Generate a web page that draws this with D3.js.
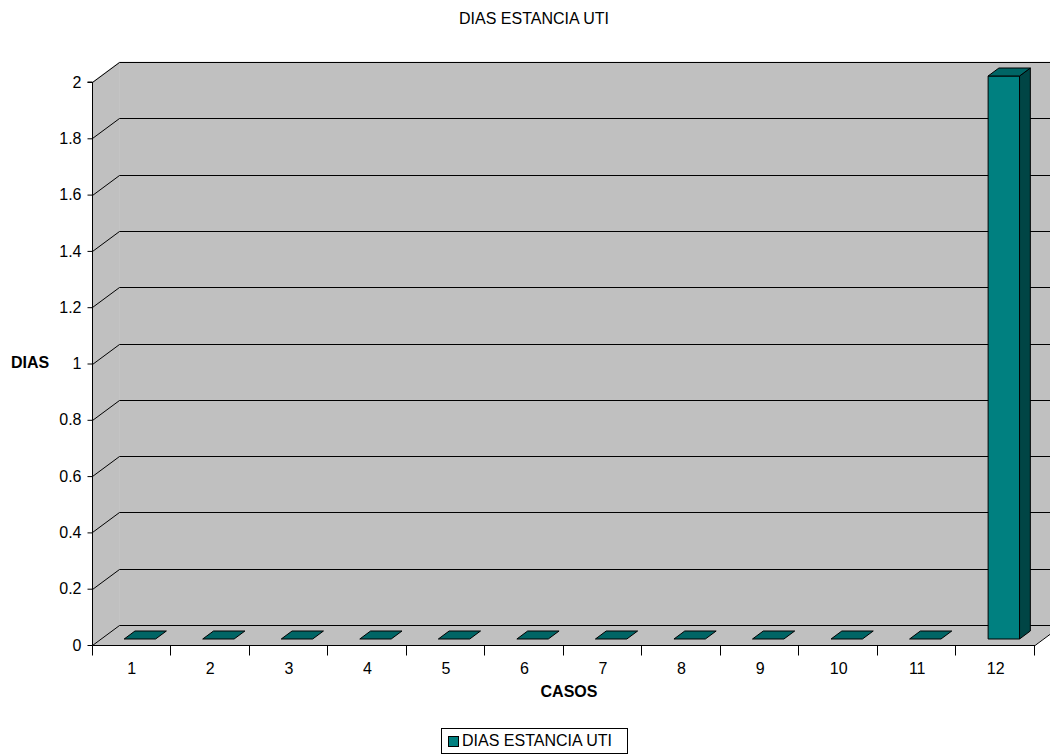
<!DOCTYPE html>
<html>
<head>
<meta charset="utf-8">
<script src="https://cdn.jsdelivr.net/npm/d3@7"></script>
<style>
  body { margin: 0; background: #fff; }
  svg { display: block; font-family: Arial, "Liberation Sans", sans-serif; }
</style>
</head>
<body>
<svg id="chart" width="1050" height="755"></svg>
<script>
// Data
const categories = ["1", "2", "3", "4", "5", "6", "7", "8", "9", "10", "11", "12"];
const values = [0, 0, 0, 0, 0, 0, 0, 0, 0, 0, 0, 2];
const yTicks = [0, 0.2, 0.4, 0.6, 0.8, 1, 1.2, 1.4, 1.6, 1.8, 2];
const seriesName = "DIAS ESTANCIA UTI";
const chartTitle = "DIAS ESTANCIA UTI";
const xTitle = "CASOS";
const yTitle = "DIAS";

const svg = d3.select("#chart");
const FONT = "Arial, 'Liberation Sans', sans-serif";
const FS = 16;

// 3D frame geometry
const depthX = 27, depthY = -20;
const x = d3.scaleBand().domain(categories).range([92.5, 1035]);
const y = d3.scaleLinear().domain([0, 2]).range([645, 82]);

const wallFill = "#c0c0c0";
const frontCol = "#008080", topCol = "#006565", sideCol = "#004545";

const line = pts => "M" + pts.map(p => p.join(",")).join("L") + "Z";

const x0 = x.range()[0], x1 = x.range()[1];
const yTop = y(2), yBot = y(0);

// Left wall
svg.append("path")
  .attr("d", line([[x0, yBot], [x0, yTop], [x0 + depthX, yTop + depthY], [x0 + depthX, yBot + depthY]]))
  .attr("fill", wallFill).attr("stroke", wallFill).attr("stroke-width", 0.5);
// Back wall
svg.append("path")
  .attr("d", line([[x0 + depthX, yTop + depthY], [x1 + depthX, yTop + depthY], [x1 + depthX, yBot + depthY], [x0 + depthX, yBot + depthY]]))
  .attr("fill", wallFill).attr("stroke", wallFill).attr("stroke-width", 0.5);
// Floor
svg.append("path")
  .attr("d", line([[x0, yBot], [x1, yBot], [x1 + depthX, yBot + depthY], [x0 + depthX, yBot + depthY]]))
  .attr("fill", wallFill).attr("stroke", "none");

// Gridlines on left and back walls
const grid = svg.append("g").attr("stroke", "#000").attr("stroke-width", 1).attr("fill", "none");
yTicks.forEach(t => {
  const yy = Math.round(y(t)) + 0.5;
  grid.append("path")
    .attr("d", `M${x0},${yy}L${x0 + depthX},${yy + depthY}L${x1 + depthX + 20},${yy + depthY}`);
});
// floor right edge
grid.append("path").attr("d", `M${x1},${yBot + 0.5}L${x1 + depthX},${yBot + depthY + 0.5}`);

// Bars
const bw = x.bandwidth() * 0.4;
const dStart = 0.3, dEnd = 0.7;
const bars = svg.append("g").attr("stroke", "#000").attr("stroke-width", 1).attr("stroke-linejoin", "round");
categories.forEach((c, i) => {
  const v = values[i];
  const cx = x(c) + x.bandwidth() / 2;
  const l = cx - bw / 2 + depthX * dStart, r = cx + bw / 2 + depthX * dStart;
  const b = y(0) + depthY * dStart, t = y(v) + depthY * dStart;
  const ddx = depthX * (dEnd - dStart), ddy = depthY * (dEnd - dStart);
  if (v > 0) {
    bars.append("path").attr("d", line([[l, b], [r, b], [r, t], [l, t]])).attr("fill", frontCol);
    bars.append("path").attr("d", line([[r, b], [r + ddx, b + ddy], [r + ddx, t + ddy], [r, t]])).attr("fill", sideCol);
  }
  bars.append("path").attr("d", line([[l, t], [r, t], [r + ddx, t + ddy], [l + ddx, t + ddy]])).attr("fill", topCol);
});

// Y axis
const yAxis = d3.axisLeft(y).tickValues(yTicks).tickSize(5).tickPadding(6).tickFormat(d3.format("~g"));
svg.append("g").attr("transform", `translate(${Math.round(x0) - 0.5},0)`).call(yAxis)
  .call(g => g.select(".domain").attr("d", `M-5,${yTop}H0V${yBot}`).attr("stroke", "#000"))
  .call(g => g.selectAll("text").attr("font-size", FS).attr("fill", "#000").attr("font-family", FONT));

// X axis
const xAxis = d3.axisBottom(x).tickSize(0).tickPadding(0);
const xg = svg.append("g").attr("transform", `translate(0,${Math.round(yBot) + 0.5})`).call(xAxis);
xg.select(".domain").attr("d", `M${x0},0H${x1}`).attr("stroke", "#000");
xg.selectAll("text").attr("font-size", FS).attr("fill", "#000").attr("font-family", FONT)
  .attr("y", 28).attr("dy", null);
// category boundary ticks
const bounds = categories.map(c => x(c)).concat([x1]);
xg.selectAll("line.bound").data(bounds).enter().append("line")
  .attr("class", "bound").attr("x1", d => Math.round(d) - 0.5).attr("x2", d => Math.round(d) - 0.5)
  .attr("y1", 0).attr("y2", 10).attr("stroke", "#000");

// Titles
svg.append("text").attr("x", 534).attr("y", 24).attr("text-anchor", "middle")
  .attr("font-size", FS).text(chartTitle);
svg.append("text").attr("x", 569).attr("y", 697).attr("text-anchor", "middle")
  .attr("font-size", FS).attr("font-weight", "bold").text(xTitle);
svg.append("text").attr("x", 30).attr("y", 368).attr("text-anchor", "middle")
  .attr("font-size", FS).attr("font-weight", "bold").text(yTitle);

// Legend
const lg = svg.append("g");
lg.append("rect").attr("x", 441.5).attr("y", 728.5).attr("width", 186).attr("height", 25)
  .attr("fill", "#fff").attr("stroke", "#000");
lg.append("rect").attr("x", 448.5).attr("y", 736.5).attr("width", 10).attr("height", 10)
  .attr("fill", frontCol).attr("stroke", "#000");
lg.append("text").attr("x", 462).attr("y", 746).attr("font-size", FS).text(seriesName);
</script>
</body>
</html>
